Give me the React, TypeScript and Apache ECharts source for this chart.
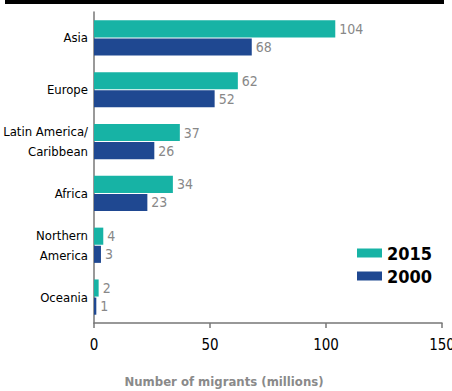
import React, { useEffect, useRef } from "react";
import * as echarts from "echarts";

const categories = ["Asia", "Europe", "Latin America/\nCaribbean", "Africa", "Northern\nAmerica", "Oceania"];
const values2015 = [104, 62, 37, 34, 4, 2];
const values2000 = [68, 52, 26, 23, 3, 1];
const xTicks = [0, 50, 100, 150];

const FONT = "'DejaVu Sans Condensed', 'Liberation Sans Narrow', sans-serif";
const TEAL = "#17b3a5";
const NAVY = "#1f4891";

export default function App() {
  const ref = useRef<HTMLDivElement>(null);
  useEffect(() => {
    const chart = echarts.init(ref.current!, null, { renderer: "svg" });
    chart.setOption({
      animation: false,
      backgroundColor: "#ffffff",
      grid: { left: 94, right: 10, top: 12, bottom: 68, containLabel: false, outerBoundsMode: "none" },
      xAxis: {
        type: "value",
        min: xTicks[0],
        max: xTicks[xTicks.length - 1],
        interval: 50,
        axisLine: { show: true, lineStyle: { color: "#777", width: 1.5 } },
        axisTick: { show: true, length: 5, lineStyle: { color: "#777", width: 1.5 } },
        splitLine: { show: false },
        axisLabel: { color: "#000", fontSize: 15, fontFamily: FONT, margin: 14 },
      },
      yAxis: {
        type: "category",
        data: categories,
        inverse: true,
        axisLine: { show: true, lineStyle: { color: "#777", width: 1.5 } },
        axisTick: { show: false },
        axisLabel: { color: "#000", fontSize: 13, fontFamily: FONT, margin: 6, lineHeight: 20, align: "right" },
      },
      legend: {
        orient: "vertical",
        left: 352,
        top: 239,
        itemWidth: 25,
        itemHeight: 9,
        itemGap: 5,
        icon: "rect",
        data: ["2015", "2000"],
        textStyle: { fontSize: 18, fontWeight: "bold", color: "#000", fontFamily: FONT },
      },
      graphic: [
        { type: "rect", shape: { x: 5, y: 0, width: 439, height: 4 }, style: { fill: "#000" } },
        {
          type: "text",
          x: 224,
          y: 381,
          style: {
            text: "Number of migrants (millions)",
            fill: "#8a8a8a",
            fontSize: 13,
            fontWeight: "bold",
            fontFamily: FONT,
            align: "center",
            verticalAlign: "middle",
          },
        },
      ],
      series: [
        {
          name: "2015",
          type: "bar",
          data: values2015,
          itemStyle: { color: TEAL },
          barGap: "6%",
          barCategoryGap: "32%",
          label: { show: true, position: "right", distance: 4, color: "#888", fontSize: 14, fontFamily: FONT },
        },
        {
          name: "2000",
          type: "bar",
          data: values2000,
          itemStyle: { color: NAVY },
          barGap: "6%",
          barCategoryGap: "32%",
          label: { show: true, position: "right", distance: 4, color: "#888", fontSize: 14, fontFamily: FONT },
        },
      ],
    });
    return () => chart.dispose();
  }, []);
  return <div ref={ref} style={{ position: "fixed", left: 0, top: 0, width: 452, height: 391, background: "#fff" }} />;
}
